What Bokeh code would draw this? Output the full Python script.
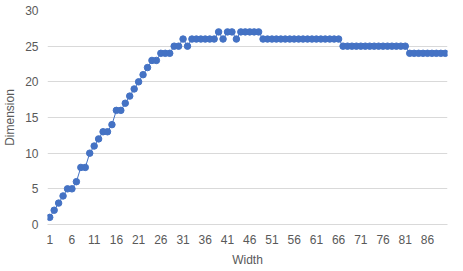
from bokeh.plotting import figure
from bokeh.models import FixedTicker, Range1d
from bokeh.embed import file_html
from bokeh.resources import INLINE

width_vals = list(range(1, 91))
dimension = [1, 2, 3, 4, 5, 5, 6, 8, 8, 10,
             11, 12, 13, 13, 14, 16, 16, 17, 18, 19,
             20, 21, 22, 23, 23, 24, 24, 24, 25, 25,
             26, 25, 26, 26, 26, 26, 26, 26, 27, 26,
             27, 27, 26, 27, 27, 27, 27, 27, 26, 26,
             26, 26, 26, 26, 26, 26, 26, 26, 26, 26,
             26, 26, 26, 26, 26, 26, 25, 25, 25, 25,
             25, 25, 25, 25, 25, 25, 25, 25, 25, 25,
             25, 24, 24, 24, 24, 24, 24, 24, 24, 24]
x_ticks = [1, 6, 11, 16, 21, 26, 31, 36, 41, 46, 51, 56, 61, 66, 71, 76, 81, 86]
y_ticks = [0, 5, 10, 15, 20, 25, 30]

FONT = "Liberation Sans"
BLUE = "#4472C4"
GREY_TXT = "#595959"
GRID = "#d9d9d9"

p = figure(width=463, height=271, output_backend="svg", toolbar_location=None,
           x_range=Range1d(0.5, 90.5), y_range=Range1d(0, 30),
           min_border_left=44, min_border_right=16, min_border_top=10, min_border_bottom=47)
p.outline_line_color = None
p.background_fill_color = "white"

p.line(width_vals, dimension, line_color=BLUE, line_width=1)
p.scatter(width_vals, dimension, size=6.5, fill_color=BLUE, line_color=BLUE)

p.xaxis.ticker = FixedTicker(ticks=x_ticks)
p.yaxis.ticker = FixedTicker(ticks=y_ticks)
p.xgrid.grid_line_color = None
p.ygrid.grid_line_color = GRID
p.ygrid.grid_line_width = 1

for ax in (p.xaxis, p.yaxis):
    ax.major_tick_line_color = None
    ax.minor_tick_line_color = None
    ax.major_tick_out = 0
    ax.major_tick_in = 0
    ax.major_label_text_font = FONT
    ax.major_label_text_font_size = "12px"
    ax.major_label_text_color = GREY_TXT
    ax.axis_label_text_font = FONT
    ax.axis_label_text_font_size = "12px"
    ax.axis_label_text_font_style = "normal"
    ax.axis_label_text_color = GREY_TXT

p.xaxis.axis_line_color = GRID
p.yaxis.axis_line_color = None
p.xaxis.axis_label = "Width"
p.yaxis.axis_label = "Dimension"
p.xaxis.major_label_standoff = 10
p.xaxis.axis_label_standoff = 6
p.yaxis.major_label_standoff = 9
p.yaxis.axis_label_standoff = 5

open("out.html", "w").write(file_html(p, INLINE))
